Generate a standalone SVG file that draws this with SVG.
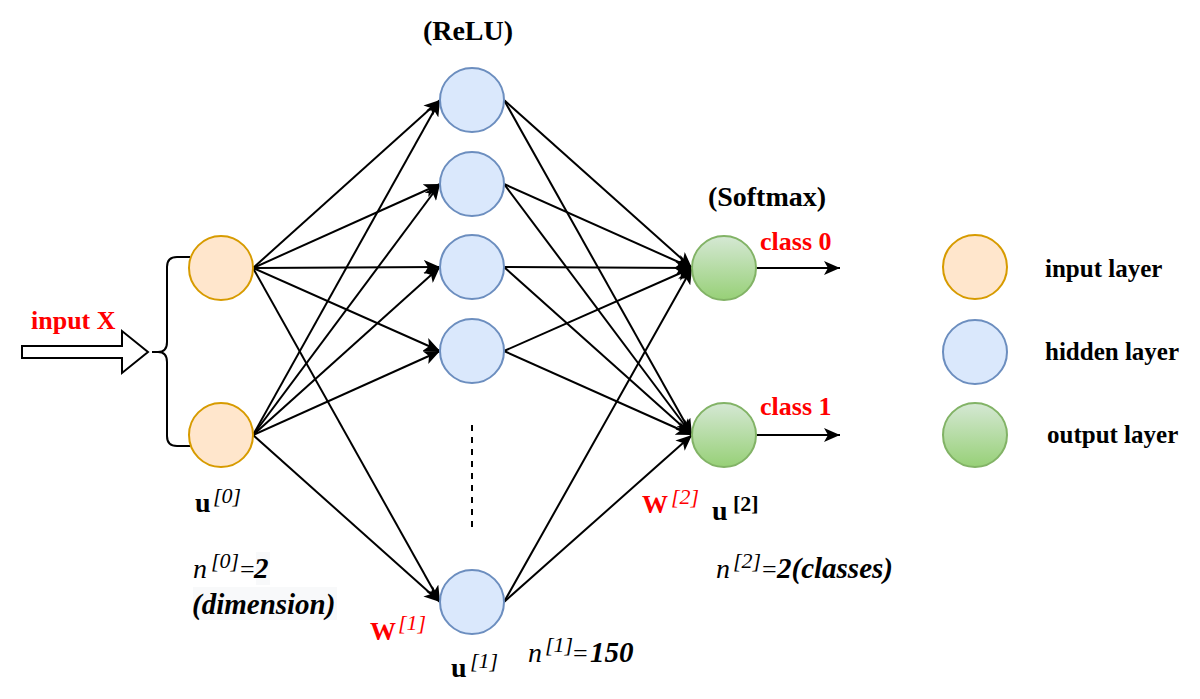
<svg xmlns="http://www.w3.org/2000/svg" width="1200" height="699" viewBox="0 0 1200 699">
<style>
.e{stroke:#000;stroke-width:2;fill:none}
.in{fill:#ffe6cc;stroke:#d79b00;stroke-width:2}
.hid{fill:#dae8fc;stroke:#6c8ebf;stroke-width:2}
.out{fill:url(#g);stroke:#82b366;stroke-width:2}
.t{font-family:"Liberation Serif","Times New Roman",serif;font-weight:bold;font-size:26px;fill:#000}
.ti{font-size:28px}
.lg{font-size:25px}
.m{font-family:"Liberation Serif","Times New Roman",serif;font-size:26px;fill:#000}
.b{font-weight:bold}
.u{font-size:28px}
.i{font-style:italic}
.n{font-size:28px}
.v{font-size:29px;font-weight:bold;font-style:italic}
.s{font-size:22px;font-style:italic;font-weight:normal}
.sb{font-size:22px;font-style:normal;font-weight:bold}
.r{fill:#ff0000}
</style>
<defs>
<linearGradient id="g" x1="0" y1="0" x2="0" y2="1"><stop offset="0" stop-color="#d5e8d4"/><stop offset="1" stop-color="#97d077"/></linearGradient>
<marker id="a" markerUnits="userSpaceOnUse" markerWidth="18" markerHeight="14" refX="16" refY="7" orient="auto" viewBox="0 0 18 14"><path d="M0,0 L16,7 L0,14 L4,7 Z" fill="#000"/></marker>
</defs>
<rect width="1200" height="699" fill="#fff"/>
<g id="connectors">
<line class="e" x1="253" y1="268" x2="440" y2="100" marker-end="url(#a)"/>
<line class="e" x1="253" y1="268" x2="440" y2="184" marker-end="url(#a)"/>
<line class="e" x1="253" y1="268" x2="440" y2="267" marker-end="url(#a)"/>
<line class="e" x1="253" y1="268" x2="440" y2="351" marker-end="url(#a)"/>
<line class="e" x1="253" y1="268" x2="440" y2="602" marker-end="url(#a)"/>
<line class="e" x1="253" y1="435" x2="440" y2="100" marker-end="url(#a)"/>
<line class="e" x1="253" y1="435" x2="440" y2="184" marker-end="url(#a)"/>
<line class="e" x1="253" y1="435" x2="440" y2="267" marker-end="url(#a)"/>
<line class="e" x1="253" y1="435" x2="440" y2="351" marker-end="url(#a)"/>
<line class="e" x1="253" y1="435" x2="440" y2="602" marker-end="url(#a)"/>
<line class="e" x1="504" y1="100" x2="692" y2="268" marker-end="url(#a)"/>
<line class="e" x1="504" y1="184" x2="692" y2="268" marker-end="url(#a)"/>
<line class="e" x1="504" y1="267" x2="692" y2="268" marker-end="url(#a)"/>
<line class="e" x1="504" y1="351" x2="692" y2="268" marker-end="url(#a)"/>
<line class="e" x1="504" y1="602" x2="692" y2="268" marker-end="url(#a)"/>
<line class="e" x1="504" y1="100" x2="692" y2="435" marker-end="url(#a)"/>
<line class="e" x1="504" y1="184" x2="692" y2="435" marker-end="url(#a)"/>
<line class="e" x1="504" y1="267" x2="692" y2="435" marker-end="url(#a)"/>
<line class="e" x1="504" y1="351" x2="692" y2="435" marker-end="url(#a)"/>
<line class="e" x1="504" y1="602" x2="692" y2="435" marker-end="url(#a)"/>
<line class="e" x1="756" y1="268" x2="840" y2="268" marker-end="url(#a)"/>
<line class="e" x1="756" y1="435" x2="840" y2="435" marker-end="url(#a)"/>
<line class="e" x1="472" y1="425" x2="472" y2="530" stroke-dasharray="6 6"/>
<path class="e" d="M152,352 L158,352 Q167,352 167,342 L167,267 Q167,257 177,257 L190,257 M158,352 Q167,352 167,362 L167,436 Q167,446 177,446 L190,446"/>
</g>
<g id="input-arrow">
<polygon points="22,346 122,346 122,331 148,352 122,373 122,358 22,358" fill="#fff" stroke="#000" stroke-width="2"/>
<text class="t r" x="31" y="329">input X</text>
</g>
<g id="in0"><circle class="in" cx="221" cy="268" r="32"/></g>
<g id="in1"><circle class="in" cx="221" cy="435" r="32"/></g>
<g id="h0"><circle class="hid" cx="472" cy="100" r="32"/></g>
<g id="h1"><circle class="hid" cx="472" cy="184" r="32"/></g>
<g id="h2"><circle class="hid" cx="472" cy="267" r="32"/></g>
<g id="h3"><circle class="hid" cx="472" cy="351" r="32"/></g>
<g id="h4"><circle class="hid" cx="472" cy="602" r="32"/></g>
<g id="o0"><circle class="out" cx="724" cy="268" r="32"/></g>
<g id="o1"><circle class="out" cx="724" cy="435" r="32"/></g>
<g id="labels">
<text class="t ti" x="468" y="40" text-anchor="middle">(ReLU)</text>
<text class="t ti" x="767" y="206" text-anchor="middle">(Softmax)</text>
<text class="t r" x="760" y="250">class 0</text>
<text class="t r" x="760" y="415">class 1</text>
<text class="m"><tspan class="b u" x="195" y="512">u</tspan><tspan class="s" x="213" y="503">[0]</tspan></text>
<rect x="256" y="552" width="14" height="33" fill="#f8f9fa"/>
<rect x="193" y="587" width="144" height="33" fill="#f8f9fa"/>
<text class="m"><tspan class="i n" x="193" y="578">n</tspan><tspan class="s" x="211" y="568">[0]</tspan><tspan x="240" y="578">=</tspan><tspan class="v" x="254" y="578">2</tspan></text>
<text class="m v" x="192" y="614">(dimension)</text>
<text class="m r"><tspan class="b" x="370" y="640">W</tspan><tspan class="s" x="398" y="630">[1]</tspan></text>
<text class="m"><tspan class="b u" x="451" y="677">u</tspan><tspan class="s" x="470" y="668">[1]</tspan></text>
<text class="m"><tspan class="i n" x="528" y="662">n</tspan><tspan class="s" x="545" y="652">[1]</tspan><tspan x="573" y="662">=</tspan><tspan class="v" x="590" y="662">150</tspan></text>
<text class="m r"><tspan class="b" x="642" y="513">W</tspan><tspan class="s" x="671" y="504">[2]</tspan></text>
<text class="m"><tspan class="b u" x="712" y="520">u</tspan><tspan class="sb" x="733" y="511">[2]</tspan></text>
<text class="m"><tspan class="i n" x="716" y="578">n</tspan><tspan class="s" x="733" y="568">[2]</tspan><tspan x="762" y="578">=</tspan><tspan class="v" x="777" y="578">2(classes)</tspan></text>
</g>
<g id="legend">
<circle class="in" cx="975" cy="267" r="32"/>
<circle class="hid" cx="975" cy="352" r="32"/>
<circle class="out" cx="975" cy="435" r="32"/>
<text class="t lg" x="1045" y="277">input layer</text>
<text class="t lg" x="1045" y="360">hidden layer</text>
<text class="t lg" x="1047" y="443">output layer</text>
</g>
</svg>
